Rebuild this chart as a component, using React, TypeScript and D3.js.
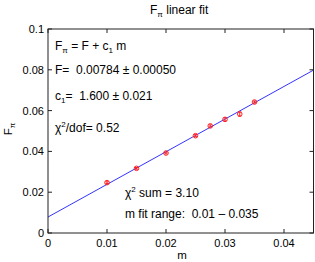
import React from 'react';
import * as d3 from 'd3';

// measured points (quark mass m, F_pi) with errors
const mValues = [0.01, 0.015, 0.02, 0.025, 0.0275, 0.03, 0.0325, 0.035];
const fValues = [0.0247, 0.0317, 0.0392, 0.0477, 0.0525, 0.0557, 0.0583, 0.0642];
const fErrors = [0.0004, 0.0004, 0.0004, 0.0005, 0.0005, 0.0008, 0.001, 0.0005];

// fit result
const fitIntercept = 0.00784;
const fitSlope = 1.6;

const xTicks = [0, 0.01, 0.02, 0.03, 0.04];
const yTicks = [0, 0.02, 0.04, 0.06, 0.08, 0.1];

const W = 315;
const H = 262;
const margin = { left: 48, right: 1.5, top: 29, bottom: 29 };
const font = '"Liberation Sans", Arial, Helvetica, sans-serif';

const App: React.FC = () => {
    const x = d3.scaleLinear().domain([0, 0.045]).range([margin.left, W - margin.right]);
    const y = d3.scaleLinear().domain([0, 0.1]).range([H - margin.bottom, margin.top]);
    const [x0, x1] = x.range();
    const [y0, y1] = y.range();
    const tick = 4;

    const fitLine = d3.line<number>()
        .x(d => x(d))
        .y(d => y(fitIntercept + fitSlope * d));

    const fmt = (v: number) => (v === 0 ? '0' : String(v));

    return (
        <div style={{ position: 'fixed', left: 0, top: 0 }}>
            <svg width={W} height={H} style={{ display: 'block', background: '#fff' }} fontFamily={font}>
                {/* title */}
                <text x={150} y={14} fontSize={12} fill="#000">
                    F<tspan fontSize={8} dy={3}>π</tspan>
                    <tspan dy={-3}> linear fit</tspan>
                </text>

                {/* fit line */}
                <path d={fitLine([0, 0.045]) ?? ''} fill="none" stroke="#3333ff" strokeWidth={1} />

                {/* data with error bars */}
                {mValues.map((m, i) => (
                    <g key={i} stroke="#ff2020" fill="none" strokeWidth={1}>
                        <line x1={x(m)} x2={x(m)} y1={y(fValues[i] - fErrors[i])} y2={y(fValues[i] + fErrors[i])} />
                        <line x1={x(m) - 1.5} x2={x(m) + 1.5} y1={y(fValues[i] - fErrors[i])} y2={y(fValues[i] - fErrors[i])} />
                        <line x1={x(m) - 1.5} x2={x(m) + 1.5} y1={y(fValues[i] + fErrors[i])} y2={y(fValues[i] + fErrors[i])} />
                        <circle cx={x(m)} cy={y(fValues[i])} r={2.3} />
                    </g>
                ))}

                {/* box */}
                <rect x={x0} y={y1} width={x1 - x0} height={y0 - y1} fill="none" stroke="#222" strokeWidth={1} />

                {/* ticks */}
                {xTicks.map(t => (
                    <g key={'x' + t}>
                        <line x1={x(t)} x2={x(t)} y1={y0} y2={y0 - tick} stroke="#222" />
                        <line x1={x(t)} x2={x(t)} y1={y1} y2={y1 + tick} stroke="#222" />
                        <text x={x(t)} y={247} fontSize={11} textAnchor="middle" fill="#000">{fmt(t)}</text>
                    </g>
                ))}
                {yTicks.map(t => (
                    <g key={'y' + t}>
                        <line x1={x0} x2={x0 + tick} y1={y(t)} y2={y(t)} stroke="#222" />
                        <line x1={x1} x2={x1 - tick} y1={y(t)} y2={y(t)} stroke="#222" />
                        <text x={44} y={y(t) + 4} fontSize={11} textAnchor="end" fill="#000">{fmt(t)}</text>
                    </g>
                ))}

                {/* axis labels */}
                <text x={x(0.0227)} y={259} fontSize={11.5} textAnchor="middle" fill="#000">m</text>
                <text transform="translate(12,129) rotate(-90)" fontSize={11.5} textAnchor="middle" fill="#000">
                    F<tspan fontSize={8} dy={3}>π</tspan>
                </text>

                {/* fit annotations */}
                <g fontSize={12} fill="#000">
                    <text x={55} y={50}>
                        F<tspan fontSize={8} dy={3}>π</tspan>
                        <tspan dy={-3}> = F + c</tspan>
                        <tspan fontSize={8} dy={3}>1</tspan>
                        <tspan dy={-3}> m</tspan>
                    </text>
                    <text x={55} y={74}>{'F=\u00a0 0.00784 ± 0.00050'}</text>
                    <text x={55} y={100}>
                        c<tspan fontSize={8} dy={3}>1</tspan>
                        <tspan dy={-3}>{'=\u00a0 1.600 ± 0.021'}</tspan>
                    </text>
                    <text x={55} y={132}>
                        χ<tspan fontSize={8} dy={-5}>2</tspan>
                        <tspan dy={5}>/dof= 0.52</tspan>
                    </text>
                    <text x={125} y={197}>
                        χ<tspan fontSize={8} dy={-5}>2</tspan>
                        <tspan dy={5}> sum = 3.10</tspan>
                    </text>
                    <text x={125} y={218}>{'m fit range:\u00a0 0.01 – 0.035'}</text>
                </g>
            </svg>
        </div>
    );
};

export default App;
